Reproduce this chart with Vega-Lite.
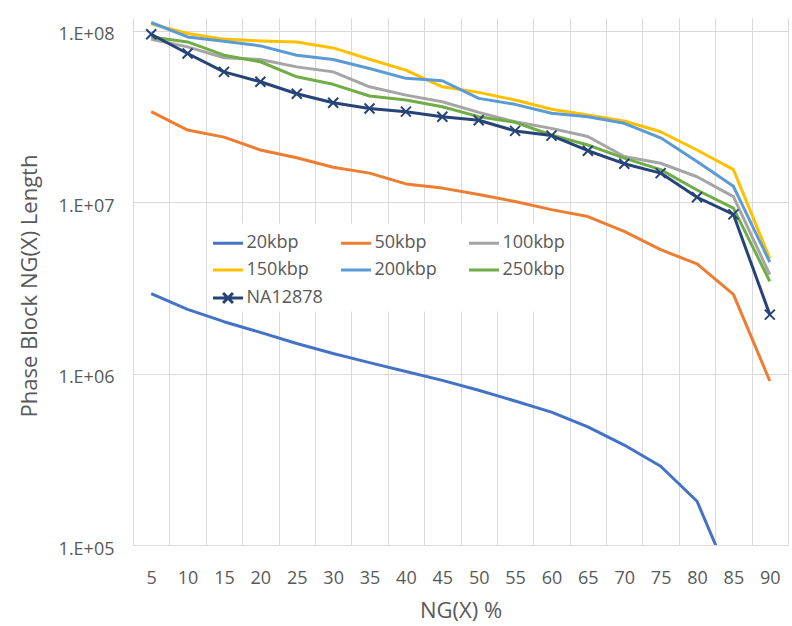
{
  "$schema": "https://vega.github.io/schema/vega-lite/v6.json",
  "width": 655,
  "height": 527,
  "autosize": "none",
  "padding": {"left": 133, "top": 18, "right": 4, "bottom": 81},
  "background": "white",
  "config": {"view": {"stroke": null}, "font": "Open Sans"},
  "data": {
    "values": [
      {"s": "20kbp", "x": 5, "v": 2930000}, {"s": "20kbp", "x": 10, "v": 2370000}, {"s": "20kbp", "x": 15, "v": 2010000}, {"s": "20kbp", "x": 20, "v": 1740000}, {"s": "20kbp", "x": 25, "v": 1500000}, {"s": "20kbp", "x": 30, "v": 1310000}, {"s": "20kbp", "x": 35, "v": 1160000}, {"s": "20kbp", "x": 40, "v": 1030000}, {"s": "20kbp", "x": 45, "v": 914000}, {"s": "20kbp", "x": 50, "v": 800000}, {"s": "20kbp", "x": 55, "v": 693000}, {"s": "20kbp", "x": 60, "v": 596000}, {"s": "20kbp", "x": 65, "v": 489000}, {"s": "20kbp", "x": 70, "v": 383000}, {"s": "20kbp", "x": 75, "v": 288000}, {"s": "20kbp", "x": 80, "v": 180000}, {"s": "20kbp", "x": 85, "v": 57000}, {"s": "20kbp", "x": 90, "v": 20000},
      {"s": "50kbp", "x": 5, "v": 33800000}, {"s": "50kbp", "x": 10, "v": 26400000}, {"s": "50kbp", "x": 15, "v": 24000000}, {"s": "50kbp", "x": 20, "v": 20200000}, {"s": "50kbp", "x": 25, "v": 18200000}, {"s": "50kbp", "x": 30, "v": 16000000}, {"s": "50kbp", "x": 35, "v": 14800000}, {"s": "50kbp", "x": 40, "v": 12800000}, {"s": "50kbp", "x": 45, "v": 12100000}, {"s": "50kbp", "x": 50, "v": 11100000}, {"s": "50kbp", "x": 55, "v": 10100000}, {"s": "50kbp", "x": 60, "v": 9060000}, {"s": "50kbp", "x": 65, "v": 8260000}, {"s": "50kbp", "x": 70, "v": 6760000}, {"s": "50kbp", "x": 75, "v": 5290000}, {"s": "50kbp", "x": 80, "v": 4370000}, {"s": "50kbp", "x": 85, "v": 2900000}, {"s": "50kbp", "x": 90, "v": 906000},
      {"s": "100kbp", "x": 5, "v": 89500000}, {"s": "100kbp", "x": 10, "v": 80700000}, {"s": "100kbp", "x": 15, "v": 69700000}, {"s": "100kbp", "x": 20, "v": 68200000}, {"s": "100kbp", "x": 25, "v": 61700000}, {"s": "100kbp", "x": 30, "v": 57700000}, {"s": "100kbp", "x": 35, "v": 47200000}, {"s": "100kbp", "x": 40, "v": 42200000}, {"s": "100kbp", "x": 45, "v": 38600000}, {"s": "100kbp", "x": 50, "v": 33500000}, {"s": "100kbp", "x": 55, "v": 29500000}, {"s": "100kbp", "x": 60, "v": 27000000}, {"s": "100kbp", "x": 65, "v": 24200000}, {"s": "100kbp", "x": 70, "v": 18500000}, {"s": "100kbp", "x": 75, "v": 16900000}, {"s": "100kbp", "x": 80, "v": 14100000}, {"s": "100kbp", "x": 85, "v": 10800000}, {"s": "100kbp", "x": 90, "v": 3780000},
      {"s": "150kbp", "x": 5, "v": 110000000}, {"s": "150kbp", "x": 10, "v": 96600000}, {"s": "150kbp", "x": 15, "v": 89600000}, {"s": "150kbp", "x": 20, "v": 87500000}, {"s": "150kbp", "x": 25, "v": 86300000}, {"s": "150kbp", "x": 30, "v": 79600000}, {"s": "150kbp", "x": 35, "v": 68400000}, {"s": "150kbp", "x": 40, "v": 59100000}, {"s": "150kbp", "x": 45, "v": 47200000}, {"s": "150kbp", "x": 50, "v": 43800000}, {"s": "150kbp", "x": 55, "v": 39500000}, {"s": "150kbp", "x": 60, "v": 34900000}, {"s": "150kbp", "x": 65, "v": 32300000}, {"s": "150kbp", "x": 70, "v": 29800000}, {"s": "150kbp", "x": 75, "v": 25800000}, {"s": "150kbp", "x": 80, "v": 20200000}, {"s": "150kbp", "x": 85, "v": 15500000}, {"s": "150kbp", "x": 90, "v": 4700000},
      {"s": "200kbp", "x": 5, "v": 112000000}, {"s": "200kbp", "x": 10, "v": 92300000}, {"s": "200kbp", "x": 15, "v": 87100000}, {"s": "200kbp", "x": 20, "v": 81800000}, {"s": "200kbp", "x": 25, "v": 72200000}, {"s": "200kbp", "x": 30, "v": 68200000}, {"s": "200kbp", "x": 35, "v": 60400000}, {"s": "200kbp", "x": 40, "v": 52900000}, {"s": "200kbp", "x": 45, "v": 51200000}, {"s": "200kbp", "x": 50, "v": 40400000}, {"s": "200kbp", "x": 55, "v": 37300000}, {"s": "200kbp", "x": 60, "v": 33100000}, {"s": "200kbp", "x": 65, "v": 31600000}, {"s": "200kbp", "x": 70, "v": 28900000}, {"s": "200kbp", "x": 75, "v": 23800000}, {"s": "200kbp", "x": 80, "v": 17300000}, {"s": "200kbp", "x": 85, "v": 12400000}, {"s": "200kbp", "x": 90, "v": 4470000},
      {"s": "250kbp", "x": 5, "v": 92300000}, {"s": "250kbp", "x": 10, "v": 86300000}, {"s": "250kbp", "x": 15, "v": 72200000}, {"s": "250kbp", "x": 20, "v": 66100000}, {"s": "250kbp", "x": 25, "v": 54000000}, {"s": "250kbp", "x": 30, "v": 48800000}, {"s": "250kbp", "x": 35, "v": 41700000}, {"s": "250kbp", "x": 40, "v": 39500000}, {"s": "250kbp", "x": 45, "v": 36100000}, {"s": "250kbp", "x": 50, "v": 31600000}, {"s": "250kbp", "x": 55, "v": 29300000}, {"s": "250kbp", "x": 60, "v": 24700000}, {"s": "250kbp", "x": 65, "v": 21600000}, {"s": "250kbp", "x": 70, "v": 18100000}, {"s": "250kbp", "x": 75, "v": 15500000}, {"s": "250kbp", "x": 80, "v": 11800000}, {"s": "250kbp", "x": 85, "v": 9250000}, {"s": "250kbp", "x": 90, "v": 3460000},
      {"s": "NA12878", "x": 5, "v": 95700000}, {"s": "NA12878", "x": 10, "v": 73900000}, {"s": "NA12878", "x": 15, "v": 57700000}, {"s": "NA12878", "x": 20, "v": 50500000}, {"s": "NA12878", "x": 25, "v": 43000000}, {"s": "NA12878", "x": 30, "v": 38100000}, {"s": "NA12878", "x": 35, "v": 35300000}, {"s": "NA12878", "x": 40, "v": 33800000}, {"s": "NA12878", "x": 45, "v": 31600000}, {"s": "NA12878", "x": 50, "v": 30100000}, {"s": "NA12878", "x": 55, "v": 26100000}, {"s": "NA12878", "x": 60, "v": 24500000}, {"s": "NA12878", "x": 65, "v": 20000000}, {"s": "NA12878", "x": 70, "v": 16800000}, {"s": "NA12878", "x": 75, "v": 14800000}, {"s": "NA12878", "x": 80, "v": 10700000}, {"s": "NA12878", "x": 85, "v": 8500000}, {"s": "NA12878", "x": 90, "v": 2210000}
    ]
  },
  "encoding": {
    "x": {
      "field": "x",
      "type": "ordinal",
      "bandPosition": 0.5,
      "scale": {"type": "band", "paddingInner": 0, "paddingOuter": 0},
      "axis": {
        "title": "NG(X) %",
        "tickBand": "extent",
        "grid": true,
        "gridColor": "#d9d9d9",
        "gridWidth": 1,
        "domain": false,
        "ticks": false,
        "tickSize": 0,
        "labelAngle": 0,
        "labelFont": "Open Sans",
        "labelFontSize": 18,
        "labelColor": "#595959",
        "labelBaseline": "alphabetic",
        "labelPadding": 38,
        "titleFont": "Open Sans",
        "titleFontSize": 22,
        "titleFontWeight": "normal",
        "titleColor": "#595959",
        "titleBaseline": "alphabetic",
        "titleY": 72
      }
    },
    "y": {
      "field": "v",
      "type": "quantitative",
      "scale": {"type": "log", "domain": [100000, 119000000], "nice": false},
      "axis": {
        "title": "Phase Block NG(X) Length",
        "values": [100000, 1000000, 10000000, 100000000],
        "labelExpr": "'1.E+0' + format(log(datum.value)/LN10, '.0f')",
        "grid": true,
        "gridColor": "#d9d9d9",
        "gridWidth": 1,
        "domain": false,
        "ticks": false,
        "tickSize": 0,
        "labelFont": "Open Sans",
        "labelFontSize": 18,
        "labelColor": "#595959",
        "labelBaseline": "alphabetic",
        "labelOffset": 9,
        "labelPadding": 19,
        "titleFont": "Open Sans",
        "titleFontSize": 22,
        "titleFontWeight": "normal",
        "titleColor": "#595959",
        "titleAngle": 270,
        "titleBaseline": "alphabetic",
        "titleAlign": "center",
        "titleX": -97,
        "titleY": 267.5
      }
    }
  },
  "layer": [
    {
      "mark": {"type": "line", "strokeWidth": 3, "clip": true, "strokeJoin": "round", "strokeCap": "butt"},
      "encoding": {
        "color": {
          "field": "s",
          "type": "nominal",
          "scale": {
            "domain": ["20kbp", "50kbp", "100kbp", "150kbp", "200kbp", "250kbp", "NA12878"],
            "range": ["#4472C4", "#ED7D31", "#A5A5A5", "#FFC000", "#5B9BD5", "#70AD47", "#264478"]
          },
          "legend": {
            "title": null,
            "orient": "none",
            "direction": "horizontal",
            "legendX": 76.5,
            "legendY": 205.5,
            "padding": 2,
            "fillColor": "white",
            "columns": 3,
            "columnPadding": 11,
            "rowPadding": -3,
            "gridAlign": "all",
            "symbolType": "stroke",
            "symbolSize": 900,
            "symbolStrokeWidth": 3,
            "labelFont": "Open Sans",
            "labelFontSize": 18,
            "labelColor": "#595959",
            "labelOffset": 2,
            "labelLimit": 0,
            "encode": {
              "symbols": {
                "update": {
                  "shape": {"signal": "datum.value === 'NA12878' ? 'M-1,0H1M-0.33,-0.33L0.33,0.33M-0.33,0.33L0.33,-0.33' : 'stroke'"}
                }
              }
            }
          }
        }
      }
    },
    {
      "transform": [{"filter": "datum.s === 'NA12878'"}],
      "mark": {"type": "point", "shape": "M-1,-1L1,1M-1,1L1,-1", "size": 100, "filled": false, "strokeWidth": 2, "color": "#264478", "opacity": 1, "clip": true}
    }
  ]
}
